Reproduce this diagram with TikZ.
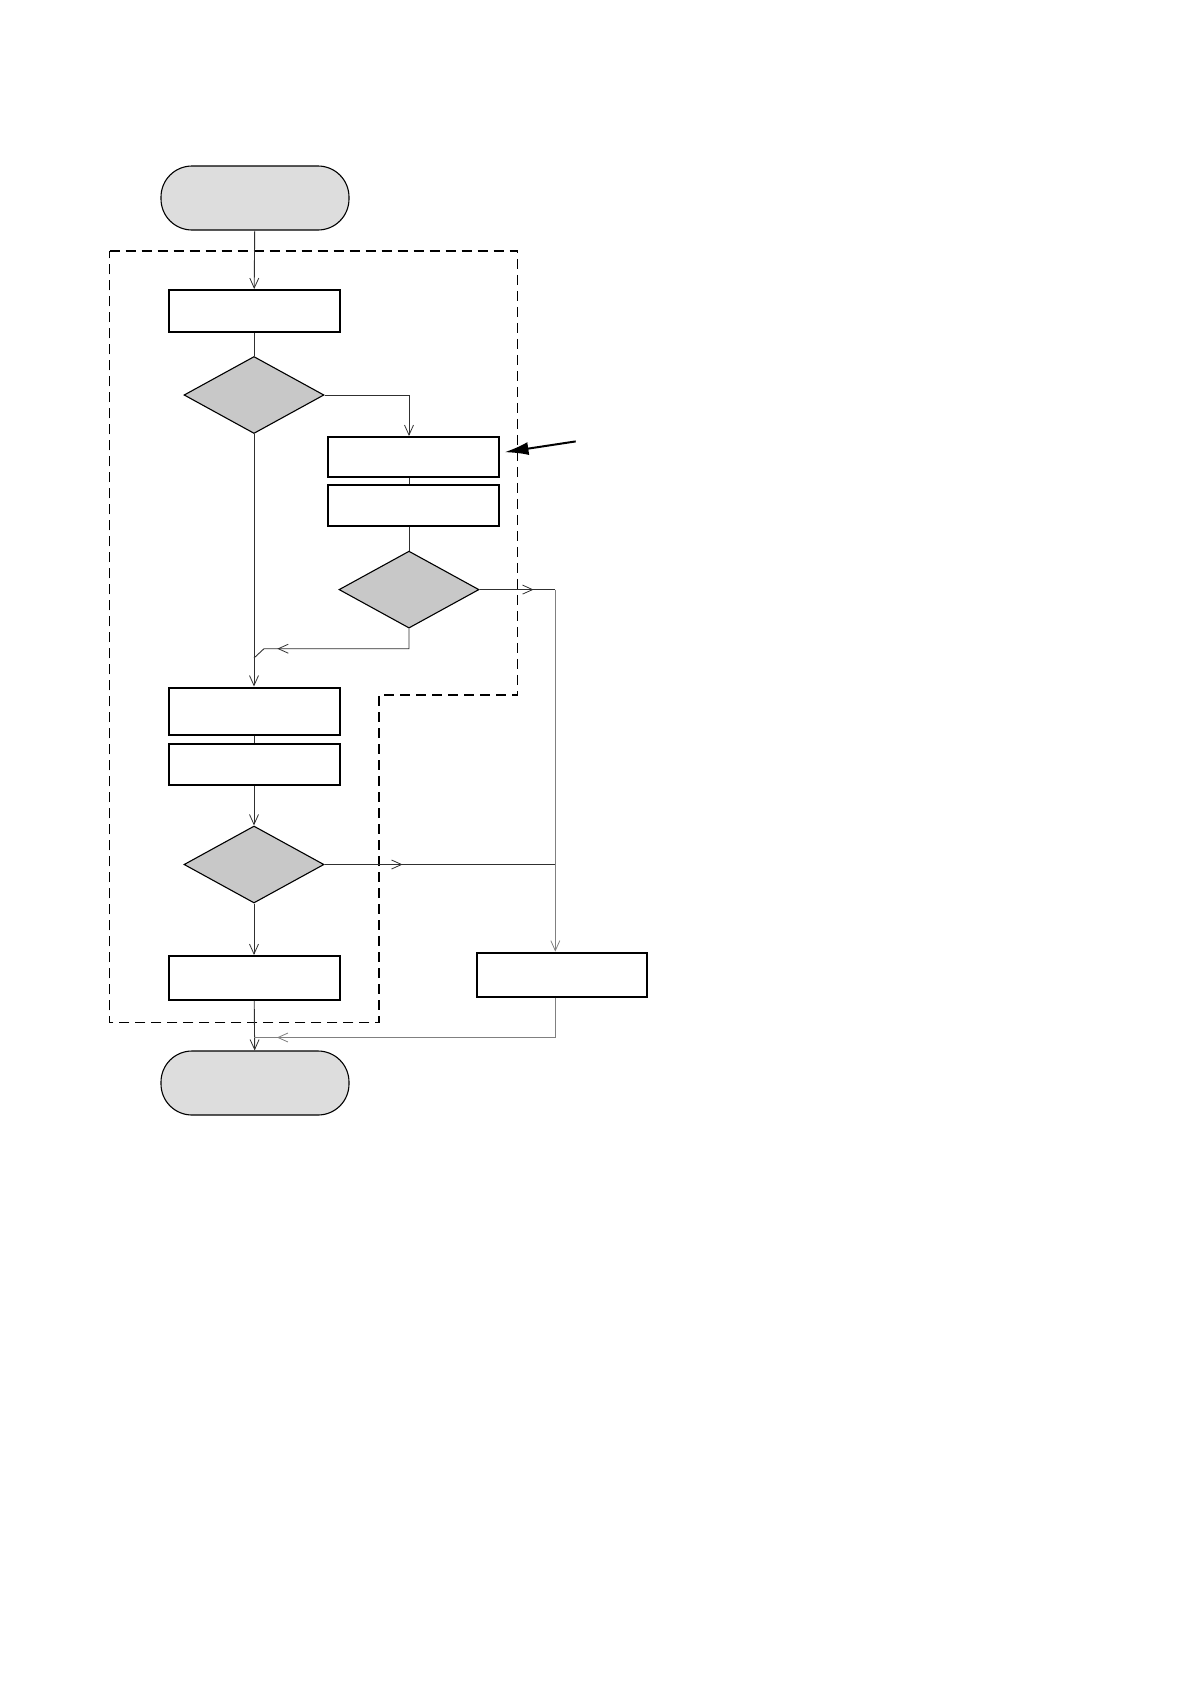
\documentclass[tikz,border=0pt]{standalone}
\usetikzlibrary{arrows.meta,decorations.markings,shapes.geometric}
\definecolor{termfill}{HTML}{DDDDDD}
\definecolor{decfill}{HTML}{C8C8C8}
\definecolor{linegray}{HTML}{303030}
\definecolor{lightline}{HTML}{808080}
\tikzset{
  term/.style={draw=black,line width=1.1pt,fill=termfill,rectangle,rounded corners=31pt,minimum width=188pt,minimum height=64pt,inner sep=0pt},
  procbox/.style={draw=black,line width=2pt,fill=white,rectangle,minimum width=171pt,inner sep=0pt},
  decision/.style={diamond,draw=black,line width=1.1pt,fill=decfill,minimum width=140pt,minimum height=77pt,inner sep=0pt},
  conn/.style={draw=linegray,line width=0.9pt},
  connlight/.style={draw=lightline,line width=1.1pt},
  endtip/.style={-{Straight Barb[length=10pt,width=9pt,line width=0.8pt]}},
  midtip/.style={postaction=decorate,decoration={markings,mark=at position #1 with {\arrow{Straight Barb[length=10pt,width=9pt,line width=0.8pt]}}}},
  boundary/.style={draw=black,line width=1.1pt,dash pattern=on 10pt off 6pt},
  pointer/.style={draw=black,line width=2pt,-{Latex[length=24pt,width=13pt]}}
}
\begin{document}
\begin{tikzpicture}[x=1pt,y=-1pt]
\useasboundingbox (0,0) rectangle (1190,1684);
% dashed boundary
\draw[boundary] (109.5,251) -- (517.7,251) -- (517.7,695) -- (379,695) -- (379,1022.5) -- (109.5,1022.5) -- cycle;
% nodes
\node[term] (start) at (255,198) {};
\node[procbox,minimum height=42pt] (box1) at (254,311) {};
\node[decision] (d1) at (254,395) {};
\node[procbox,minimum height=40pt] (box2) at (413,457) {};
\node[procbox,minimum height=41pt] (box3) at (413,505) {};
\node[decision] (d2) at (409,589.6) {};
\node[procbox,minimum height=47pt] (box4) at (254,711) {};
\node[procbox,minimum height=41pt] (box5) at (254,764.7) {};
\node[decision] (d3) at (254,864.5) {};
\node[procbox,minimum height=44pt] (box6) at (254,978) {};
\node[procbox,minimum height=44pt,minimum width=170pt] (box7) at (561.7,974.6) {};
\node[term] (end) at (255,1083) {};
% helper coordinates
\coordinate (rx) at (555.3,0);
\coordinate (j2) at (rx |- d3.east);
\coordinate (k1) at (264,648.7);
\coordinate (k2) at (254,658);
\coordinate (b1) at (rx |- 0,1037.5);
\coordinate (b2) at (254,1037.5);
\coordinate (ptrtail) at (575.7,441.4);
% connectors
\draw[conn,endtip] (start) -- (box1);
\draw[conn] (box1) -- (d1);
\draw[conn,endtip] (d1.south) -- (box4.north);
\draw[conn,endtip] (d1.east) -| (d2 |- box2.north);
\draw[conn] (d2 |- box2.south) -- (d2 |- box3.north);
\draw[conn] (d2 |- box3.south) -- (d2.north);
\draw[conn,midtip=-27pt] (d2.south) |- (k1) -- (k2);
\draw[conn,midtip=54pt] (d2.east) -- (rx |- d2.east);
\draw[connlight,endtip] (rx |- d2.east) -- (rx |- box7.north);
\draw[conn,midtip=78pt] (d3.east) -- (j2);
\draw[conn] (box4) -- (box5);
\draw[conn,endtip] (box5) -- (d3);
\draw[conn,endtip] (d3) -- (box6);
\draw[conn,endtip] (box6) -- (end);
\draw[connlight,midtip=-23pt] (rx |- box7.south) -- (b1) -- (b2);
\draw[pointer] (ptrtail) -- ([xshift=5pt,yshift=4.8pt]box2.east);
\end{tikzpicture}
\end{document}
